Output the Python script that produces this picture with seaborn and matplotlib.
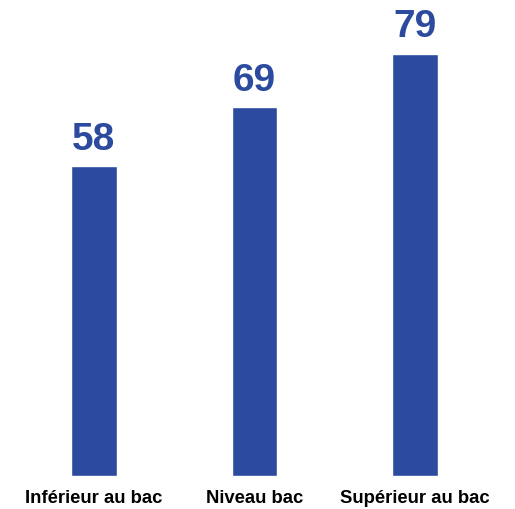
import matplotlib
matplotlib.use("Agg")
import matplotlib.pyplot as plt
import seaborn as sns
import pandas as pd

categories = ["Inférieur au bac", "Niveau bac", "Supérieur au bac"]
values = [58, 69, 79]

BLUE = "#2C4A9E"

df = pd.DataFrame({"niveau": categories, "valeur": values})

sns.set_style("white")
plt.rcParams['font.family'] = ['Liberation Sans', 'DejaVu Sans']

fig = plt.figure(figsize=(5.15, 5.09), dpi=100)
ax = fig.add_axes([0.0262, 0.0648, 0.936, 0.935])

sns.barplot(data=df, x="niveau", y="valeur", color=BLUE, width=0.286,
            saturation=1, ax=ax)

# value labels above each bar
for i, v in enumerate(values):
    ax.annotate(str(v), (i, v), xytext=(0, 6), textcoords="offset points",
                ha="center", va="bottom", fontsize=28, fontweight="bold",
                color=BLUE)

ax.set_xlim(-0.5, 2.5)
ax.set_ylim(0, 89)
ax.set_xlabel("")
ax.set_ylabel("")
ax.set_yticks([])
ax.tick_params(axis="x", length=0, pad=10, labelsize=13.3, labelcolor="black")
for lbl in ax.get_xticklabels():
    lbl.set_fontweight("bold")
sns.despine(ax=ax, left=True, bottom=True)

fig.savefig("out.png", dpi=100)
